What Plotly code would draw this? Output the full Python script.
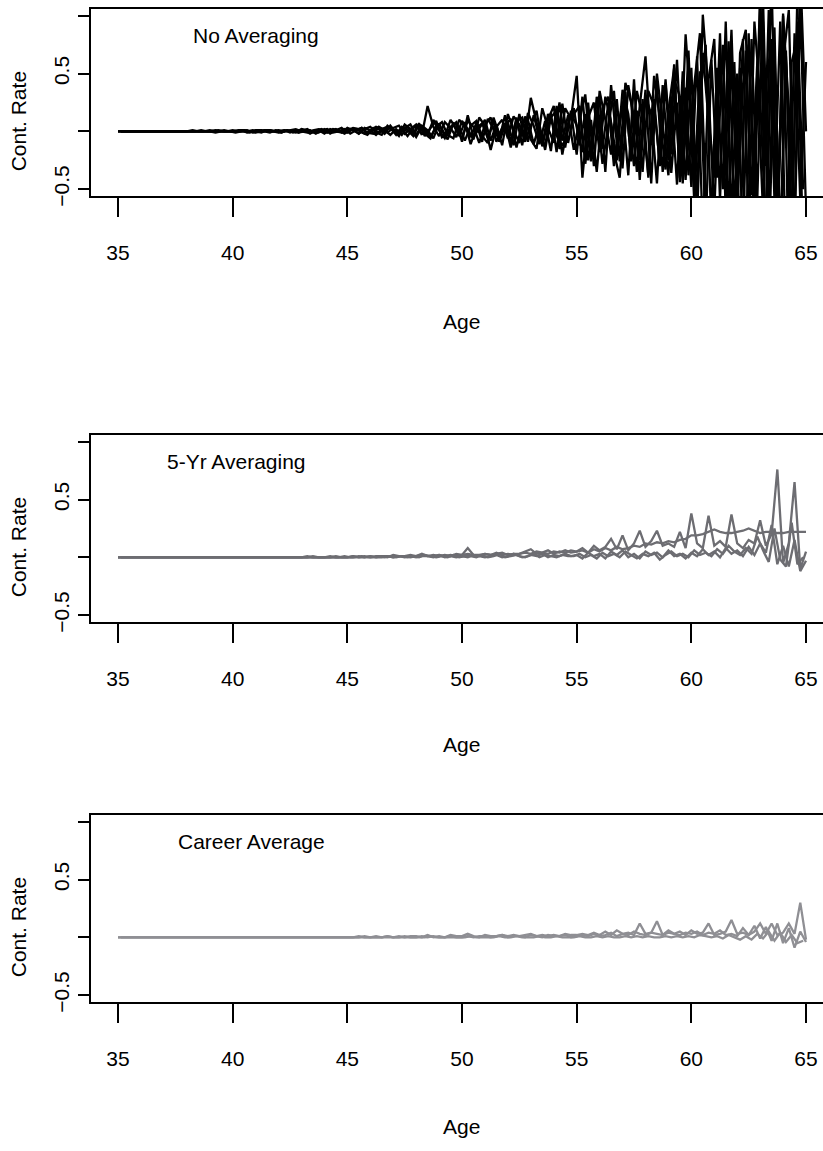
import numpy as np
import plotly.graph_objects as go

# Contribution-rate paths by age (values in hundredths).
# Quarter-year grid, plus a grid shifted by an eighth of a year for some paths.
AGES_Q = np.linspace(35, 65, 121)
AGES_H = np.linspace(35.125, 64.875, 120)

# Panel 1: no averaging
P1_A = [0,0,0,0,0,0,0,0,0,0,
        0,0,0,0,0,0,0,1,0,0,
        0,1,1,0,-1,0,1,0,1,0,
        1,2,0,-1,1,2,1,0,2,-1,
        1,3,2,-2,1,4,2,-1,3,5,
        -2,2,6,-3,22,4,-4,8,3,-5,
        9,2,-7,12,5,-16,4,10,-6,13,
        6,-9,29,8,-12,15,4,-10,20,11,
        48,-40,12,25,-18,30,8,-25,36,15,
        -30,22,65,-12,40,-35,18,55,-40,84,
        10,-58,101,35,-70,60,-20,88,-65,40,
        75,-50,120,-30,130,-95,102,20,-80,140,
        0]
P1_B = [0,0,0,0,0,0,0,0,0,0,
        0,0,0,1,0,0,0,-1,0,0,
        1,0,0,-1,1,1,0,0,-1,1,
        0,-1,2,1,0,-1,2,-2,1,3,
        -1,2,-2,3,1,-3,2,4,1,-2,
        3,6,-3,5,1,-6,7,-4,10,2,
        -6,9,4,-10,6,12,-9,3,8,-12,
        15,-8,5,18,-13,10,22,-15,-8,16,
        5,-18,25,-30,35,10,-20,28,-32,40,
        12,-25,36,-45,50,8,-38,45,30,-42,
        55,-75,68,10,-40,85,-70,62,-55,80,
        -80,95,30,-90,80,-85,60,105,-90,110,
        -70]
P1_C = [0,0,0,0,0,0,0,0,0,0,
        0,0,0,0,0,0,1,0,0,0,
        0,0,1,0,0,-1,1,0,0,1,
        -1,1,0,2,-1,1,-2,2,0,-1,
        3,1,-2,2,4,-1,-3,5,1,-4,
        6,2,-5,4,-3,10,1,-6,4,8,
        -9,14,-5,2,10,-8,6,-12,15,1,
        -10,13,-7,-15,20,3,-10,25,-14,18,
        -20,30,-25,5,28,-35,40,-10,22,-38,
        45,-42,30,15,-45,40,-25,58,-44,38,
        -48,65,-90,45,80,-60,95,-75,50,-95,
        85,-70,110,-95,75,-85,100,-110,85,-60,
        60]
# shifted grid (120 values)
P1_D = [0,0,0,0,0,0,0,0,0,
        0,0,0,0,0,0,0,0,1,0,
        0,0,0,1,-1,0,0,1,0,-1,
        1,0,-1,1,0,0,2,-1,1,0,
        -1,2,1,3,-2,2,-1,1,3,-3,
        4,1,-4,6,2,-5,4,8,-3,-6,
        10,4,-5,7,-9,11,2,-7,14,-10,
        12,-12,16,5,-11,9,-17,22,-8,14,
        -16,10,32,-22,18,-28,5,35,-26,42,
        25,-35,28,-40,48,12,-33,30,-46,52,
        -38,40,85,-55,-65,55,20,-80,60,-100,
        70,-55,60,95,-110,70,-90,65,-100,120,
        130]
P1_E = [0,0,0,0,0,0,0,0,0,
        0,0,0,0,0,0,0,0,0,1,
        0,-1,0,0,1,0,0,-1,1,0,
        0,1,-1,0,1,-2,1,2,-1,0,
        2,-2,1,3,-1,-2,4,1,-3,2,
        -3,4,-2,7,-4,3,9,-5,-2,6,
        -4,8,-11,3,7,-6,9,-9,5,11,
        -14,7,10,-11,6,-16,12,18,-20,7,
        20,-12,15,-26,30,-15,24,-30,12,34,
        -26,18,-35,35,22,-28,42,-36,25,-45,
        48,-60,30,75,-85,40,-50,78,-70,55,
        -100,80,-60,115,-75,90,-120,70,-85,95,
        -50]
P1_F = [0,0,0,0,0,0,0,0,0,
        0,0,0,0,0,1,0,0,0,0,
        0,0,1,-1,0,0,1,1,0,-1,
        1,-1,1,1,-2,1,0,-1,2,1,
        -2,1,2,-1,-3,3,2,-2,5,-1,
        2,-4,3,5,-2,-6,5,2,-7,7,
        4,-8,5,9,-4,-10,12,-3,7,-14,
        9,12,-9,14,-6,-12,16,-18,24,-10,
        15,22,-28,10,-35,20,30,-18,-40,26,
        -22,35,12,-38,28,-30,45,-20,62,-35,
        70,-45,52,-85,62,-40,75,-62,-90,68,
        88,-95,50,-70,105,-60,95,-115,60,80,
        -100]

# Panel 2: 5-year averaging
P2_E = [0,0,0,0,0,0,0,0,0,0,
        0,0,0,0,0,0,0,0,0,0,
        0,0,0,0,0,0,0,0,0,0,
        0,0,0,0,1,0,0,0,1,0,
        0,1,0,1,0,1,1,0,2,1,
        1,2,1,3,1,2,1,2,1,3,
        2,8,2,1,3,2,4,2,3,2,
        3,5,7,3,4,6,3,5,4,6,
        5,8,4,10,6,9,16,7,19,6,
        12,23,9,14,23,10,12,9,22,8,
        38,12,8,36,10,14,9,37,12,8,
        15,12,32,10,20,76,-5,12,65,-10,
        5]
P2_F = [0,0,0,0,0,0,0,0,0,0,
        0,0,0,0,0,0,0,0,0,0,
        0,0,0,0,0,0,0,0,0,0,
        0,0,0,1,0,0,0,1,0,0,
        0,0,1,0,1,0,1,1,0,1,
        1,0,1,2,1,1,2,1,2,1,
        2,3,2,2,3,2,3,4,2,3,
        3,4,3,5,4,3,5,4,6,4,
        5,6,4,7,5,8,6,9,7,8,
        10,9,12,11,13,12,14,13,15,16,
        19,19,20,22,24,22,21,21,22,23,
        25,23,21,22,22,21,21,22,22,22,
        22]
P2_G = [0,0,0,0,0,0,0,0,0,0,
        0,0,0,0,0,0,0,0,0,0,
        0,0,0,0,0,0,0,0,0,0,
        0,0,0,0,0,0,0,0,0,0,
        0,1,0,0,1,0,0,1,0,1,
        0,1,0,1,1,0,2,0,1,0,
        1,0,2,1,0,1,2,0,1,3,
        1,0,2,1,3,0,2,1,3,1,
        2,-1,4,1,3,-1,5,2,6,0,
        3,-1,5,2,4,0,6,1,3,-1,
        4,1,7,2,5,0,8,3,6,1,
        9,2,12,4,28,-6,10,-8,15,-12,
        -3]
# shifted grid (120 values)
P2_H = [0,0,0,0,0,0,0,0,0,
        0,0,0,0,0,0,0,0,0,0,
        0,0,0,0,0,0,0,0,0,0,
        0,0,0,0,0,0,0,0,0,0,
        1,0,0,1,0,0,1,0,1,0,
        1,0,1,0,2,1,0,1,0,2,
        0,1,1,0,2,0,1,3,0,1,
        2,0,1,3,0,2,1,0,2,1,
        1,3,0,2,-1,4,1,3,0,5,
        2,-1,3,1,4,-2,2,5,1,3,
        0,6,2,4,1,7,3,10,5,2,
        8,3,18,6,-4,25,-2,-8,30,-6,
        0]

# Panel 3: career average
P3_I = [0,0,0,0,0,0,0,0,0,0,
        0,0,0,0,0,0,0,0,0,0,
        0,0,0,0,0,0,0,0,0,0,
        0,0,0,0,0,0,0,0,0,0,
        0,0,1,0,0,1,0,1,0,1,
        0,1,1,0,2,0,1,0,2,1,
        1,3,1,0,2,1,1,2,1,2,
        1,2,3,1,2,1,2,1,3,2,
        2,3,2,4,2,5,2,6,3,4,
        2,12,3,4,14,2,4,3,5,2,
        6,3,4,12,2,3,5,15,3,4,
        2,5,12,3,12,2,4,12,3,30,
        -2]
P3_J = [0,0,0,0,0,0,0,0,0,0,
        0,0,0,0,0,0,0,0,0,0,
        0,0,0,0,0,0,0,0,0,0,
        0,0,0,0,0,0,0,0,0,0,
        0,0,0,1,0,0,0,1,0,0,
        1,0,0,1,0,1,0,0,1,0,
        0,1,0,1,1,0,1,2,0,1,
        1,0,2,1,0,2,1,1,2,0,
        1,2,1,3,1,2,4,1,3,2,
        5,3,2,4,3,2,6,3,2,4,
        3,5,2,4,3,6,2,3,1,8,
        2,10,-1,9,-3,12,-5,8,-9,5,
        -4]
# shifted grid (120 values)
P3_K = [0,0,0,0,0,0,0,0,0,
        0,0,0,0,0,0,0,0,0,0,
        0,0,0,0,0,0,0,0,0,0,
        0,0,0,0,0,0,0,0,0,0,
        0,0,0,0,0,0,0,0,0,0,
        0,0,0,0,0,1,0,0,0,0,
        0,0,1,0,0,0,0,1,0,0,
        1,0,0,0,1,0,0,1,0,0,
        0,1,0,0,1,0,1,0,0,1,
        0,1,0,1,0,0,1,0,1,0,
        1,0,2,1,0,1,-1,2,0,-2,
        1,-2,3,-1,5,-3,4,-4,2,-5,
        -3]

PANEL_TITLES = ["No Averaging", "5-Yr Averaging", "Career Average"]
X_TICKS = [35, 40, 45, 50, 55, 60, 65]
Y_TICKS = [-0.5, 0, 0.5, 1]
Y_TICK_TEXT = ["\u22120.5", "", "0.5", ""]

W, H = 823, 1151
FONT = "Liberation Sans, Arial, Helvetica, sans-serif"
FS = 21

panels = [
    dict(series=[(AGES_Q, P1_A), (AGES_Q, P1_B), (AGES_Q, P1_C),
                 (AGES_H, P1_D), (AGES_H, P1_E), (AGES_H, P1_F)],
         color="#000000", width=2.3,
         top=9, bottom=198, title_x=191, title_y=36, age_y=325),
    dict(series=[(AGES_Q, P2_E), (AGES_Q, P2_F), (AGES_Q, P2_G), (AGES_H, P2_H)],
         color="#6d6d72", width=2.3,
         top=439, bottom=628, title_x=165, title_y=466, age_y=752),
    dict(series=[(AGES_Q, P3_I), (AGES_Q, P3_J), (AGES_H, P3_K)],
         color="#8f8f94", width=2.3,
         top=822.7, bottom=1011.7, title_x=176, title_y=850, age_y=1137),
]

fig = go.Figure()
annotations = []
x_left_px = 90.5
for k, p in enumerate(panels, start=1):
    xa = "x" if k == 1 else f"x{k}"
    ya = "y" if k == 1 else f"y{k}"
    for ages, s in p["series"]:
        assert len(s) == len(ages)
        fig.add_trace(go.Scatter(
            x=ages, y=np.array(s) / 100.0, mode="lines",
            line=dict(color=p["color"], width=p["width"]),
            xaxis=xa, yaxis=ya, showlegend=False, hoverinfo="skip"))
    dom_y = [1 - p["bottom"] / H, 1 - p["top"] / H]
    fig.layout[f"xaxis{'' if k == 1 else k}"] = dict(
        domain=[x_left_px / W, 1], range=[33.8, 65.741], anchor=ya,
        tickvals=X_TICKS, ticks="outside", ticklen=19, tickwidth=1.8,
        tickcolor="black", showline=True, mirror=True, linewidth=2,
        linecolor="black", showgrid=False, zeroline=False,
        tickfont=dict(family=FONT, size=FS, color="black"),
        ticklabelstandoff=18, fixedrange=True)
    fig.layout[f"yaxis{'' if k == 1 else k}"] = dict(
        domain=dom_y, range=[-0.56, 1.06], anchor=xa,
        tickvals=Y_TICKS, ticktext=Y_TICK_TEXT, tickangle=-90,
        ticks="outside", ticklen=11, tickwidth=1.8, tickcolor="black",
        showline=True, mirror=False, linewidth=2, linecolor="black",
        showgrid=False, zeroline=False,
        tickfont=dict(family=FONT, size=FS, color="black"),
        ticklabelstandoff=0, fixedrange=True)
    mid = (p["top"] + p["bottom"]) / 2 + 19
    annotations += [
        dict(text="Cont. Rate", textangle=-90, x=18 / W, y=1 - mid / H,
             xref="paper", yref="paper", showarrow=False,
             xanchor="center", yanchor="middle",
             font=dict(family=FONT, size=FS, color="black")),
        dict(text="Age", x=461.7 / W, y=1 - p["age_y"] / H,
             xref="paper", yref="paper", showarrow=False,
             xanchor="center", yanchor="middle",
             font=dict(family=FONT, size=FS, color="black")),
        dict(text=PANEL_TITLES[k - 1], x=p["title_x"] / W, y=1 - p["title_y"] / H,
             xref="paper", yref="paper", showarrow=False,
             xanchor="left", yanchor="middle",
             font=dict(family=FONT, size=FS, color="black")),
    ]

fig.update_layout(
    width=W, height=H, margin=dict(l=0, r=0, t=0, b=0),
    paper_bgcolor="white", plot_bgcolor="white",
    annotations=annotations, showlegend=False,
)

fig.write_html("out.html", config={"displayModeBar": False})
